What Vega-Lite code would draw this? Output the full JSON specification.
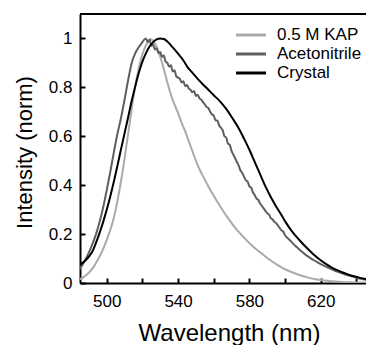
{
  "$schema": "https://vega.github.io/schema/vega-lite/v6.json",
  "autosize": "none",
  "width": 286,
  "height": 269,
  "padding": {"left": 80, "top": 14, "right": 0, "bottom": 62},
  "background": "white",
  "config": {
    "view": {"stroke": null},
    "font": "Liberation Sans",
    "axis": {
      "domainColor": "black", "domainWidth": 2, "tickColor": "black", "tickWidth": 2,
      "labelColor": "black", "titleColor": "black", "labelFont": "Liberation Sans",
      "titleFont": "Liberation Sans", "titleFontWeight": "normal", "grid": false
    }
  },
  "datasets": {
    "curves": [
      {"s": "0.5 M KAP", "x": 484, "y": 0.012},
      {"s": "0.5 M KAP", "x": 487, "y": 0.024},
      {"s": "0.5 M KAP", "x": 489, "y": 0.036},
      {"s": "0.5 M KAP", "x": 491, "y": 0.05},
      {"s": "0.5 M KAP", "x": 493, "y": 0.07},
      {"s": "0.5 M KAP", "x": 495, "y": 0.095},
      {"s": "0.5 M KAP", "x": 497, "y": 0.123},
      {"s": "0.5 M KAP", "x": 499, "y": 0.157},
      {"s": "0.5 M KAP", "x": 501, "y": 0.197},
      {"s": "0.5 M KAP", "x": 503, "y": 0.24},
      {"s": "0.5 M KAP", "x": 505, "y": 0.3},
      {"s": "0.5 M KAP", "x": 507, "y": 0.375},
      {"s": "0.5 M KAP", "x": 509, "y": 0.46},
      {"s": "0.5 M KAP", "x": 511, "y": 0.56},
      {"s": "0.5 M KAP", "x": 513, "y": 0.66},
      {"s": "0.5 M KAP", "x": 515, "y": 0.76},
      {"s": "0.5 M KAP", "x": 517, "y": 0.845},
      {"s": "0.5 M KAP", "x": 519, "y": 0.91},
      {"s": "0.5 M KAP", "x": 521, "y": 0.955},
      {"s": "0.5 M KAP", "x": 523, "y": 0.985},
      {"s": "0.5 M KAP", "x": 524.5, "y": 0.998},
      {"s": "0.5 M KAP", "x": 526, "y": 0.99},
      {"s": "0.5 M KAP", "x": 528, "y": 0.965},
      {"s": "0.5 M KAP", "x": 530, "y": 0.925},
      {"s": "0.5 M KAP", "x": 532, "y": 0.875},
      {"s": "0.5 M KAP", "x": 534, "y": 0.82},
      {"s": "0.5 M KAP", "x": 536, "y": 0.77},
      {"s": "0.5 M KAP", "x": 538, "y": 0.73},
      {"s": "0.5 M KAP", "x": 540, "y": 0.695},
      {"s": "0.5 M KAP", "x": 542, "y": 0.655},
      {"s": "0.5 M KAP", "x": 544, "y": 0.62},
      {"s": "0.5 M KAP", "x": 546, "y": 0.58},
      {"s": "0.5 M KAP", "x": 548, "y": 0.54},
      {"s": "0.5 M KAP", "x": 550, "y": 0.5},
      {"s": "0.5 M KAP", "x": 552, "y": 0.465},
      {"s": "0.5 M KAP", "x": 554, "y": 0.437},
      {"s": "0.5 M KAP", "x": 557, "y": 0.395},
      {"s": "0.5 M KAP", "x": 560, "y": 0.357},
      {"s": "0.5 M KAP", "x": 563.5, "y": 0.315},
      {"s": "0.5 M KAP", "x": 568, "y": 0.265},
      {"s": "0.5 M KAP", "x": 573, "y": 0.217},
      {"s": "0.5 M KAP", "x": 578, "y": 0.178},
      {"s": "0.5 M KAP", "x": 582, "y": 0.149},
      {"s": "0.5 M KAP", "x": 587, "y": 0.12},
      {"s": "0.5 M KAP", "x": 591, "y": 0.097},
      {"s": "0.5 M KAP", "x": 595, "y": 0.077},
      {"s": "0.5 M KAP", "x": 599, "y": 0.06},
      {"s": "0.5 M KAP", "x": 604, "y": 0.044},
      {"s": "0.5 M KAP", "x": 608, "y": 0.033},
      {"s": "0.5 M KAP", "x": 613, "y": 0.022},
      {"s": "0.5 M KAP", "x": 617, "y": 0.015},
      {"s": "0.5 M KAP", "x": 622, "y": 0.01},
      {"s": "0.5 M KAP", "x": 627, "y": 0.007},
      {"s": "0.5 M KAP", "x": 636, "y": 0.003},
      {"s": "0.5 M KAP", "x": 646, "y": 0.002},

      {"s": "Acetonitrile", "x": 484, "y": 0.05},
      {"s": "Acetonitrile", "x": 486, "y": 0.07},
      {"s": "Acetonitrile", "x": 488, "y": 0.095},
      {"s": "Acetonitrile", "x": 490, "y": 0.125},
      {"s": "Acetonitrile", "x": 492, "y": 0.16},
      {"s": "Acetonitrile", "x": 494, "y": 0.2},
      {"s": "Acetonitrile", "x": 496, "y": 0.25},
      {"s": "Acetonitrile", "x": 498, "y": 0.31},
      {"s": "Acetonitrile", "x": 500, "y": 0.38},
      {"s": "Acetonitrile", "x": 502, "y": 0.455},
      {"s": "Acetonitrile", "x": 504, "y": 0.535},
      {"s": "Acetonitrile", "x": 506, "y": 0.61},
      {"s": "Acetonitrile", "x": 508, "y": 0.675},
      {"s": "Acetonitrile", "x": 510, "y": 0.75},
      {"s": "Acetonitrile", "x": 512, "y": 0.83},
      {"s": "Acetonitrile", "x": 514, "y": 0.9},
      {"s": "Acetonitrile", "x": 516, "y": 0.94},
      {"s": "Acetonitrile", "x": 518, "y": 0.965},
      {"s": "Acetonitrile", "x": 519, "y": 0.975},
      {"s": "Acetonitrile", "x": 520, "y": 0.985},
      {"s": "Acetonitrile", "x": 521, "y": 0.995},
      {"s": "Acetonitrile", "x": 522, "y": 1.0},
      {"s": "Acetonitrile", "x": 523, "y": 0.985},
      {"s": "Acetonitrile", "x": 524, "y": 0.995},
      {"s": "Acetonitrile", "x": 525, "y": 0.97},
      {"s": "Acetonitrile", "x": 526, "y": 0.975},
      {"s": "Acetonitrile", "x": 527, "y": 0.955},
      {"s": "Acetonitrile", "x": 528, "y": 0.96},
      {"s": "Acetonitrile", "x": 529, "y": 0.94},
      {"s": "Acetonitrile", "x": 530, "y": 0.945},
      {"s": "Acetonitrile", "x": 531, "y": 0.925},
      {"s": "Acetonitrile", "x": 532, "y": 0.93},
      {"s": "Acetonitrile", "x": 533, "y": 0.905},
      {"s": "Acetonitrile", "x": 534, "y": 0.9},
      {"s": "Acetonitrile", "x": 535, "y": 0.885},
      {"s": "Acetonitrile", "x": 536, "y": 0.89},
      {"s": "Acetonitrile", "x": 537, "y": 0.865},
      {"s": "Acetonitrile", "x": 538, "y": 0.87},
      {"s": "Acetonitrile", "x": 539, "y": 0.845},
      {"s": "Acetonitrile", "x": 540, "y": 0.84},
      {"s": "Acetonitrile", "x": 541, "y": 0.835},
      {"s": "Acetonitrile", "x": 542, "y": 0.82},
      {"s": "Acetonitrile", "x": 543, "y": 0.825},
      {"s": "Acetonitrile", "x": 544, "y": 0.805},
      {"s": "Acetonitrile", "x": 545, "y": 0.81},
      {"s": "Acetonitrile", "x": 546, "y": 0.795},
      {"s": "Acetonitrile", "x": 547, "y": 0.79},
      {"s": "Acetonitrile", "x": 548, "y": 0.78},
      {"s": "Acetonitrile", "x": 549, "y": 0.785},
      {"s": "Acetonitrile", "x": 550, "y": 0.765},
      {"s": "Acetonitrile", "x": 551, "y": 0.77},
      {"s": "Acetonitrile", "x": 552, "y": 0.755},
      {"s": "Acetonitrile", "x": 553, "y": 0.75},
      {"s": "Acetonitrile", "x": 554, "y": 0.74},
      {"s": "Acetonitrile", "x": 555, "y": 0.73},
      {"s": "Acetonitrile", "x": 556, "y": 0.72},
      {"s": "Acetonitrile", "x": 557, "y": 0.715},
      {"s": "Acetonitrile", "x": 558, "y": 0.7},
      {"s": "Acetonitrile", "x": 559, "y": 0.69},
      {"s": "Acetonitrile", "x": 560, "y": 0.685},
      {"s": "Acetonitrile", "x": 561, "y": 0.665},
      {"s": "Acetonitrile", "x": 562, "y": 0.665},
      {"s": "Acetonitrile", "x": 563, "y": 0.645},
      {"s": "Acetonitrile", "x": 564, "y": 0.635},
      {"s": "Acetonitrile", "x": 565, "y": 0.625},
      {"s": "Acetonitrile", "x": 566, "y": 0.6},
      {"s": "Acetonitrile", "x": 567, "y": 0.595},
      {"s": "Acetonitrile", "x": 568, "y": 0.57},
      {"s": "Acetonitrile", "x": 569, "y": 0.565},
      {"s": "Acetonitrile", "x": 570, "y": 0.54},
      {"s": "Acetonitrile", "x": 571, "y": 0.525},
      {"s": "Acetonitrile", "x": 572, "y": 0.51},
      {"s": "Acetonitrile", "x": 573, "y": 0.495},
      {"s": "Acetonitrile", "x": 574, "y": 0.48},
      {"s": "Acetonitrile", "x": 575, "y": 0.46},
      {"s": "Acetonitrile", "x": 576, "y": 0.45},
      {"s": "Acetonitrile", "x": 577, "y": 0.435},
      {"s": "Acetonitrile", "x": 578, "y": 0.42},
      {"s": "Acetonitrile", "x": 579, "y": 0.415},
      {"s": "Acetonitrile", "x": 580, "y": 0.395},
      {"s": "Acetonitrile", "x": 581, "y": 0.39},
      {"s": "Acetonitrile", "x": 582, "y": 0.37},
      {"s": "Acetonitrile", "x": 583, "y": 0.36},
      {"s": "Acetonitrile", "x": 584, "y": 0.345},
      {"s": "Acetonitrile", "x": 585, "y": 0.34},
      {"s": "Acetonitrile", "x": 586, "y": 0.325},
      {"s": "Acetonitrile", "x": 587, "y": 0.315},
      {"s": "Acetonitrile", "x": 588, "y": 0.305},
      {"s": "Acetonitrile", "x": 589, "y": 0.295},
      {"s": "Acetonitrile", "x": 590, "y": 0.285},
      {"s": "Acetonitrile", "x": 591, "y": 0.28},
      {"s": "Acetonitrile", "x": 592, "y": 0.265},
      {"s": "Acetonitrile", "x": 593, "y": 0.26},
      {"s": "Acetonitrile", "x": 594, "y": 0.25},
      {"s": "Acetonitrile", "x": 595, "y": 0.245},
      {"s": "Acetonitrile", "x": 596, "y": 0.235},
      {"s": "Acetonitrile", "x": 597, "y": 0.225},
      {"s": "Acetonitrile", "x": 598, "y": 0.215},
      {"s": "Acetonitrile", "x": 599, "y": 0.21},
      {"s": "Acetonitrile", "x": 600, "y": 0.195},
      {"s": "Acetonitrile", "x": 602, "y": 0.18},
      {"s": "Acetonitrile", "x": 604, "y": 0.165},
      {"s": "Acetonitrile", "x": 606, "y": 0.15},
      {"s": "Acetonitrile", "x": 608, "y": 0.137},
      {"s": "Acetonitrile", "x": 610, "y": 0.125},
      {"s": "Acetonitrile", "x": 612, "y": 0.113},
      {"s": "Acetonitrile", "x": 614, "y": 0.103},
      {"s": "Acetonitrile", "x": 616, "y": 0.094},
      {"s": "Acetonitrile", "x": 618, "y": 0.085},
      {"s": "Acetonitrile", "x": 620, "y": 0.077},
      {"s": "Acetonitrile", "x": 622, "y": 0.07},
      {"s": "Acetonitrile", "x": 624, "y": 0.063},
      {"s": "Acetonitrile", "x": 626, "y": 0.057},
      {"s": "Acetonitrile", "x": 628, "y": 0.05},
      {"s": "Acetonitrile", "x": 630, "y": 0.045},
      {"s": "Acetonitrile", "x": 632, "y": 0.04},
      {"s": "Acetonitrile", "x": 634, "y": 0.035},
      {"s": "Acetonitrile", "x": 636, "y": 0.03},
      {"s": "Acetonitrile", "x": 638, "y": 0.026},
      {"s": "Acetonitrile", "x": 640, "y": 0.022},
      {"s": "Acetonitrile", "x": 642, "y": 0.018},
      {"s": "Acetonitrile", "x": 644, "y": 0.015},
      {"s": "Acetonitrile", "x": 646, "y": 0.012},

      {"s": "Crystal", "x": 484, "y": 0.072},
      {"s": "Crystal", "x": 486, "y": 0.08},
      {"s": "Crystal", "x": 488, "y": 0.092},
      {"s": "Crystal", "x": 490, "y": 0.108},
      {"s": "Crystal", "x": 492, "y": 0.13},
      {"s": "Crystal", "x": 494, "y": 0.165},
      {"s": "Crystal", "x": 496, "y": 0.205},
      {"s": "Crystal", "x": 498, "y": 0.25},
      {"s": "Crystal", "x": 500, "y": 0.3},
      {"s": "Crystal", "x": 502, "y": 0.355},
      {"s": "Crystal", "x": 504, "y": 0.415},
      {"s": "Crystal", "x": 506, "y": 0.48},
      {"s": "Crystal", "x": 508, "y": 0.547},
      {"s": "Crystal", "x": 510, "y": 0.612},
      {"s": "Crystal", "x": 512, "y": 0.678},
      {"s": "Crystal", "x": 514, "y": 0.745},
      {"s": "Crystal", "x": 516, "y": 0.805},
      {"s": "Crystal", "x": 518, "y": 0.86},
      {"s": "Crystal", "x": 520, "y": 0.905},
      {"s": "Crystal", "x": 522, "y": 0.94},
      {"s": "Crystal", "x": 524, "y": 0.967},
      {"s": "Crystal", "x": 526, "y": 0.985},
      {"s": "Crystal", "x": 528, "y": 0.996},
      {"s": "Crystal", "x": 530, "y": 1.0},
      {"s": "Crystal", "x": 532, "y": 0.998},
      {"s": "Crystal", "x": 534, "y": 0.988},
      {"s": "Crystal", "x": 536, "y": 0.972},
      {"s": "Crystal", "x": 538, "y": 0.955},
      {"s": "Crystal", "x": 540, "y": 0.938},
      {"s": "Crystal", "x": 543, "y": 0.91},
      {"s": "Crystal", "x": 545, "y": 0.886},
      {"s": "Crystal", "x": 548, "y": 0.86},
      {"s": "Crystal", "x": 551, "y": 0.835},
      {"s": "Crystal", "x": 554, "y": 0.812},
      {"s": "Crystal", "x": 557, "y": 0.79},
      {"s": "Crystal", "x": 560, "y": 0.768},
      {"s": "Crystal", "x": 563.5, "y": 0.743},
      {"s": "Crystal", "x": 567, "y": 0.712},
      {"s": "Crystal", "x": 571, "y": 0.668},
      {"s": "Crystal", "x": 574, "y": 0.633},
      {"s": "Crystal", "x": 577, "y": 0.59},
      {"s": "Crystal", "x": 580, "y": 0.545},
      {"s": "Crystal", "x": 583, "y": 0.495},
      {"s": "Crystal", "x": 586, "y": 0.445},
      {"s": "Crystal", "x": 589, "y": 0.395},
      {"s": "Crystal", "x": 592, "y": 0.352},
      {"s": "Crystal", "x": 595, "y": 0.313},
      {"s": "Crystal", "x": 598, "y": 0.278},
      {"s": "Crystal", "x": 600.6, "y": 0.246},
      {"s": "Crystal", "x": 604, "y": 0.21},
      {"s": "Crystal", "x": 608, "y": 0.176},
      {"s": "Crystal", "x": 612, "y": 0.145},
      {"s": "Crystal", "x": 617, "y": 0.11},
      {"s": "Crystal", "x": 622, "y": 0.082},
      {"s": "Crystal", "x": 627, "y": 0.06},
      {"s": "Crystal", "x": 632, "y": 0.044},
      {"s": "Crystal", "x": 636, "y": 0.033},
      {"s": "Crystal", "x": 641, "y": 0.023},
      {"s": "Crystal", "x": 646, "y": 0.015}
    ],
    "frame": [{"edge": "top"}]
  },
  "layer": [
    {
      "data": {"name": "curves"},
      "mark": {"type": "line", "strokeWidth": 2, "clip": true, "interpolate": "monotone"},
      "encoding": {
        "x": {
          "field": "x", "type": "quantitative",
          "scale": {"domain": [485, 645.4], "nice": false, "zero": false},
          "axis": {
            "title": "Wavelength (nm)", "titleFontSize": 24, "titleX": 149, "titleY": 57,
            "titleBaseline": "alphabetic", "titleAnchor": null,
            "values": [500, 520, 540, 560, 580, 600, 620, 640],
            "labelExpr": "(datum.value - 500) % 40 == 0 ? datum.label : ''",
            "labelFontSize": 17, "labelBaseline": "alphabetic", "labelPadding": 28,
            "tickSize": -5, "labelFlush": false, "labelOverlap": false
          }
        },
        "y": {
          "field": "y", "type": "quantitative",
          "scale": {"domain": [0, 1.1], "nice": false},
          "axis": {
            "title": "Intensity (norm)", "titleFontSize": 22, "titleX": -49, "titleY": 138,
            "titleBaseline": "alphabetic", "titleAngle": -90,
            "values": [0, 0.2, 0.4, 0.6, 0.8, 1],
            "format": "~g",
            "labelFontSize": 17, "labelPadding": 13, "tickSize": -5,
            "labelBaseline": "middle", "labelFlush": false, "labelOverlap": false
          }
        },
        "color": {
          "field": "s", "type": "nominal",
          "scale": {"domain": ["0.5 M KAP", "Acetonitrile", "Crystal"], "range": ["#aaaaaa", "#5e5e5e", "#000000"]},
          "legend": {
            "title": null, "orient": "none", "legendX": 162, "legendY": 12,
            "symbolType": "M-2,0H2", "symbolSize": 225, "symbolStrokeWidth": 3,
            "labelFontSize": 17, "labelFont": "Liberation Sans", "labelColor": "black",
            "labelOffset": 17, "rowPadding": 2, "padding": 0, "labelLimit": 200
          }
        }
      }
    },
    {
      "data": {"name": "frame"},
      "mark": {"type": "rule", "color": "black", "strokeWidth": 2},
      "encoding": {"y": {"datum": 1.1, "type": "quantitative"}}
    }
  ]
}
